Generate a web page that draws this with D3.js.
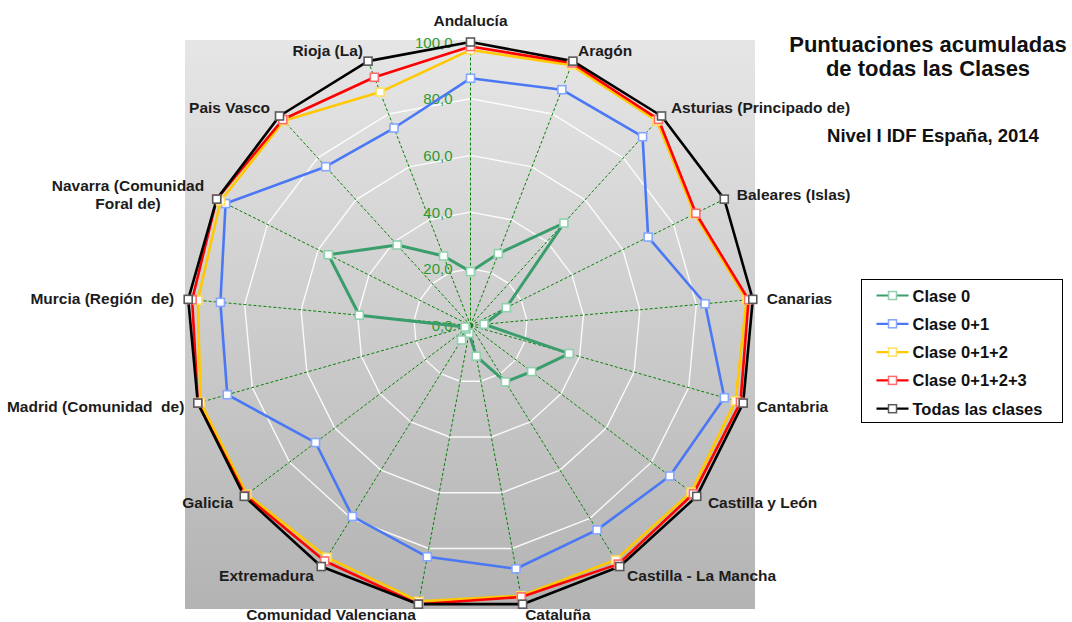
<!DOCTYPE html>
<html>
<head>
<meta charset="utf-8">
<script src="https://cdn.jsdelivr.net/npm/d3@7"></script>
<style>
  body { margin: 0; background: #fff; }
  svg text { font-family: "Liberation Sans", Arial, sans-serif; white-space: pre; }
</style>
</head>
<body>
<svg id="chart" width="1072" height="622"></svg>
<script>
// Regions (clockwise from the top)
const categories = [
  "Andalucía", "Aragón", "Asturias (Principado de)", "Baleares (Islas)", "Canarias",
  "Cantabria", "Castilla y León", "Castilla - La Mancha", "Cataluña", "Comunidad Valenciana",
  "Extremadura", "Galicia", "Madrid (Comunidad  de)", "Murcia (Región  de)",
  "Navarra (Comunidad Foral de)", "Pais Vasco", "Rioja (La)"
];

// Radial axis ticks
const tickValues = [0, 20, 40, 60, 80, 100];
const tickLabels = ["0,0", "20,0", "40,0", "60,0", "80,0", "100,0"];
const gridLevels = [20, 40, 60, 80, 100];

// Series
const seriesNames = ["Clase 0", "Clase 0+1", "Clase 0+1+2", "Clase 0+1+2+3", "Todas las clases"];
const clase0    = [19.0, 27.2, 48.9, 14.1, 4.8, 36.2, 27.0, 23.4, 11.0, 2.8, 6.0, 2.0, 2.0, 39.4, 56.0, 38.4, 26.3];
const clase01   = [87.2, 89.2, 90.1, 70.0, 83.1, 93.1, 88.1, 84.8, 87.3, 83.0, 79.2, 68.5, 89.2, 88.6, 96.5, 75.8, 74.7];
const clase012  = [97.2, 98.5, 97.6, 88.3, 97.8, 97.2, 97.5, 97.3, 97.0, 99.0, 96.2, 98.8, 99.0, 96.6, 98.5, 97.7, 88.3];
const clase0123 = [98.4, 99.3, 98.4, 88.8, 98.5, 99.0, 98.5, 99.0, 97.4, 100, 97.7, 99.5, 100, 98.6, 100, 98.3, 93.9];
const todas     = [100, 100, 100, 100, 100, 100, 100, 100, 100, 100, 100, 100, 100, 100, 100, 100, 100];

const seriesValues = [clase0, clase01, clase012, clase0123, todas];
const lineColors   = ["#3a9e6c", "#4a78f5", "#ffc800", "#ff0000", "#000000"];
const markerStroke = ["#8fd0ad", "#86a6ff", "#ffdf60", "#ff6b6b", "#5a5a5a"];

const svg = d3.select("#chart");

// Plot geometry
const cx = 470.5, cy = 325.5, R = 283.5;
const n = categories.length;
const r = d3.scaleLinear().domain([0, 100]).range([0, R]);
const angle = d3.scaleLinear().domain([0, n]).range([0, 2 * Math.PI]);
const point = (i, v) => [cx + r(v) * Math.sin(angle(i)), cy - r(v) * Math.cos(angle(i))];

// Plot area background
const defs = svg.append("defs");
const grad = defs.append("linearGradient").attr("id", "plotBg")
  .attr("x1", 0).attr("y1", 0).attr("x2", 0).attr("y2", 1);
grad.append("stop").attr("offset", "0%").attr("stop-color", "#e6e6e6");
grad.append("stop").attr("offset", "100%").attr("stop-color", "#b3b3b3");
svg.append("rect").attr("x", 185).attr("y", 40).attr("width", 570).attr("height", 569)
  .attr("fill", "url(#plotBg)");

const g = svg.append("g").attr("transform", `translate(${cx},${cy})`);

const radial = d3.lineRadial()
  .angle((d, i) => angle(i))
  .radius(d => r(d))
  .curve(d3.curveLinearClosed);

// Web gridlines
g.selectAll("path.grid").data(gridLevels).join("path")
  .attr("class", "grid")
  .attr("d", lv => radial(categories.map(() => lv)))
  .attr("fill", "none").attr("stroke", "#ffffff").attr("stroke-width", 1.4).attr("stroke-opacity", 0.9);

// Spokes
g.selectAll("line.spoke").data(categories).join("line")
  .attr("class", "spoke")
  .attr("x1", 0).attr("y1", 0)
  .attr("x2", (d, i) => point(i, 100)[0] - cx)
  .attr("y2", (d, i) => point(i, 100)[1] - cy)
  .attr("stroke", "#078207").attr("stroke-width", 1).attr("stroke-dasharray", "3,2");

// Radial tick labels
g.selectAll("text.tick").data(tickValues).join("text")
  .attr("class", "tick")
  .attr("x", -18).attr("y", v => -r(v))
  .attr("text-anchor", "end").attr("dominant-baseline", "central")
  .attr("font-size", 15).attr("fill", "#2f9a2f")
  .text((v, i) => tickLabels[i]);

// Series lines and markers
seriesValues.forEach((vals, s) => {
  g.append("path")
    .attr("d", radial(vals))
    .attr("fill", "none")
    .attr("stroke", lineColors[s])
    .attr("stroke-width", s === 0 ? 3 : 2.6)
    .attr("stroke-linejoin", "round");
});
seriesValues.forEach((vals, s) => {
  g.selectAll(null).data(vals).join("rect")
    .attr("x", (v, i) => point(i, v)[0] - cx - 4)
    .attr("y", (v, i) => point(i, v)[1] - cy - 4)
    .attr("width", 8).attr("height", 8)
    .attr("fill", "#ffffff")
    .attr("stroke", markerStroke[s]).attr("stroke-width", 1.6);
});

// Category labels
const labelG = svg.append("g");
categories.forEach((name, i) => {
  const a = angle(i);
  const [px, py] = point(i, 100);
  const sx = Math.sin(a), cyy = Math.cos(a);
  const t = labelG.append("text")
    .attr("font-size", 15.5).attr("font-weight", "bold").attr("fill", "#1c1c1c")
    .attr("dominant-baseline", "central");
  if (Math.abs(sx) < 0.05) {
    t.attr("x", px).attr("y", py - 22).attr("text-anchor", "middle").text(name);
    return;
  }
  const x = px + 14 * sx, y = py - 11 * cyy;
  if (name.length > 25) {
    // wrap long names at the space nearest the middle
    const mid = name.length / 2;
    let best = -1;
    for (let k = 0; k < name.length; k++) if (name[k] === " " && (best < 0 || Math.abs(k - mid) < Math.abs(best - mid))) best = k;
    const lines = [name.slice(0, best), name.slice(best + 1)];
    const lh = 18;
    t.attr("text-anchor", "middle");
    const spans = lines.map((ln, k) => t.append("tspan").attr("y", y - lh / 2 + k * lh).text(ln));
    const w = d3.max(spans, sp => sp.node().getComputedTextLength());
    const xc = sx > 0 ? x + w / 2 : x - w / 2;
    spans.forEach(sp => sp.attr("x", xc));
  } else {
    t.attr("x", x).attr("y", y).attr("text-anchor", sx > 0 ? "start" : "end").text(name);
  }
});

// Titles
const titleG = svg.append("g").attr("font-weight", "bold").attr("fill", "#111").attr("text-anchor", "middle");
titleG.append("text").attr("x", 928).attr("y", 52).attr("font-size", 22).text("Puntuaciones acumuladas");
titleG.append("text").attr("x", 928).attr("y", 76).attr("font-size", 22).text("de todas las Clases");
titleG.append("text").attr("x", 933).attr("y", 141.5).attr("font-size", 18.5).text("Nivel I IDF España, 2014");

// Legend
const lg = svg.append("g").attr("transform", "translate(861.5,279.5)");
lg.append("rect").attr("width", 201).attr("height", 143)
  .attr("fill", "#ffffff").attr("stroke", "#000").attr("stroke-width", 1);
const items = lg.selectAll("g.item").data(seriesNames).join("g")
  .attr("class", "item")
  .attr("transform", (d, i) => `translate(0,${16 + i * 28.3})`);
items.append("line").attr("x1", 15).attr("x2", 47).attr("y1", 0).attr("y2", 0)
  .attr("stroke", (d, i) => lineColors[i]).attr("stroke-width", 2.2);
items.append("rect").attr("x", 27).attr("y", -4).attr("width", 8).attr("height", 8)
  .attr("fill", "#fff").attr("stroke", (d, i) => markerStroke[i]).attr("stroke-width", 1.5);
items.append("text").attr("x", 51).attr("y", 0).attr("dominant-baseline", "central")
  .attr("font-size", 16.5).attr("font-weight", "bold").attr("fill", "#111")
  .text(d => d);
</script>
</body>
</html>
